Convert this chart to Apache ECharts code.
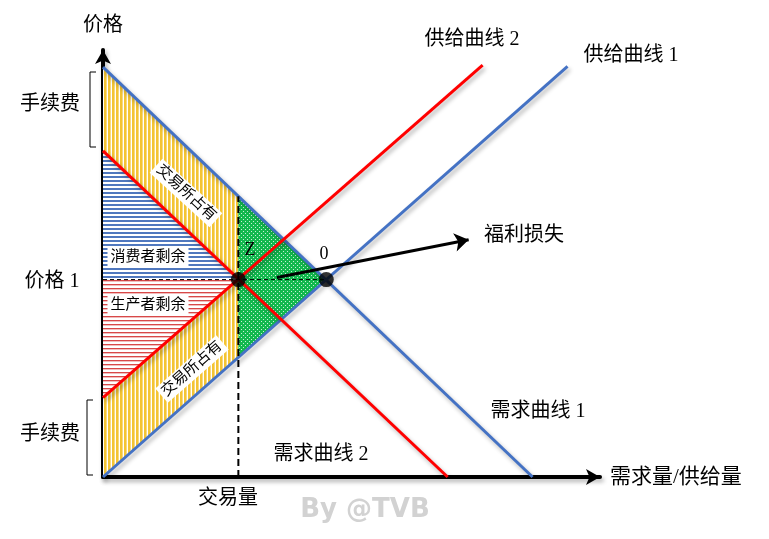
<!DOCTYPE html>
<html>
<head>
<meta charset="utf-8">
<script src="https://cdn.jsdelivr.net/npm/echarts@6/dist/echarts.min.js"></script>
<style>
  html, body { margin: 0; padding: 0; background: #fff; }
  #chart { width: 769px; height: 539px; }
</style>
</head>
<body>
<div id="chart"></div>
<script>
// axis range (quantity / price, arbitrary units)
var qMax = 99.5, pMax = 99.5;

// curves: two end points each
var demand1 = [[0, 95.5], [86, 0]];
var demand2 = [[0, 76], [69, 0]];
var supply1 = [[0, 0], [93, 95.7]];
var supply2 = [[0, 18.5], [76, 96]];

// key points
var pointZ = [27.1, 46];
var point0 = [44.7, 46];
var dashTrade = [[27.1, 0], [27.1, 65.4]];
var dashPrice = [[0, 46], [44.7, 46]];
var lossArrow = [[34.8, 46.5], [73.2, 55.3]];

// shaded areas
var exchangeTop = [[0, 95.5], [27.1, 65.4], [27.1, 46], [0, 76]];
var exchangeBottom = [[0, 18.5], [27.1, 46], [27.1, 27.9], [0, 0]];
var welfareLoss = [[27.1, 65.4], [44.7, 46], [27.1, 27.9]];
var consumerSurplus = [[0, 76], [27.1, 46], [0, 46]];
var producerSurplus = [[0, 46], [27.1, 46], [0, 18.5]];

var CJK = '"Liberation Serif", "Noto Sans CJK SC", sans-serif';

function tile(w, h, draw) {
  var c = document.createElement('canvas');
  c.width = w; c.height = h;
  draw(c.getContext('2d'));
  return { image: c, repeat: 'repeat' };
}

var yellowFill = tile(4, 4, function (ctx) {
  ctx.fillStyle = '#fff'; ctx.fillRect(0, 0, 4, 4);
  ctx.fillStyle = '#F4C433'; ctx.fillRect(0, 0, 2, 4);
  ctx.fillStyle = '#F8DA80'; ctx.fillRect(2, 0, 1, 4);
});
var blueFill = tile(4, 4, function (ctx) {
  ctx.fillStyle = '#fff'; ctx.fillRect(0, 0, 4, 4);
  ctx.fillStyle = '#5078BE'; ctx.fillRect(0, 0, 4, 2);
});
var redFill = tile(4, 4, function (ctx) {
  ctx.fillStyle = '#fff'; ctx.fillRect(0, 0, 4, 4);
  ctx.fillStyle = '#D84848'; ctx.fillRect(0, 0, 4, 1);
  ctx.fillStyle = '#F1BDBD'; ctx.fillRect(0, 1, 4, 1);
});
var greenFill = tile(4, 4, function (ctx) {
  ctx.fillStyle = '#12B84E'; ctx.fillRect(0, 0, 4, 4);
  ctx.fillStyle = '#c8f0d6'; ctx.fillRect(1, 1, 1, 1); ctx.fillRect(3, 3, 1, 1);
});

function area(pts, fill) {
  return {
    type: 'custom', silent: true, z: 1,
    data: [[0, 0]],
    renderItem: function (params, api) {
      return {
        type: 'polygon',
        shape: { points: pts.map(function (p) { return api.coord(p); }) },
        style: { fill: fill }
      };
    }
  };
}

var shadow = { shadowColor: 'rgba(0,0,0,0.3)', shadowBlur: 4, shadowOffsetX: 2, shadowOffsetY: 3 };

function curve(pts, color) {
  return {
    type: 'line', data: pts, showSymbol: false, silent: true, z: 3,
    lineStyle: Object.assign({ color: color, width: 3 }, shadow)
  };
}

function label(txt, x, y, size, extra) {
  return Object.assign({
    type: 'text', x: x, y: y, z: 100,
    style: { text: txt, fontSize: size, fontFamily: CJK, fill: '#000', align: 'center', verticalAlign: 'middle' }
  }, extra || {});
}

function boxed(txt, x, y, size, rot) {
  return {
    type: 'text', x: x, y: y, rotation: rot || 0, z: 100,
    style: {
      text: txt, fontSize: size, fontFamily: CJK, fill: '#000',
      align: 'center', verticalAlign: 'middle',
      backgroundColor: '#fff', padding: [2, 3]
    }
  };
}

function bracket(x, y0, y1) {
  return {
    type: 'polyline', z: 100,
    shape: { points: [[x + 6, y0], [x, y0], [x, y1], [x + 6, y1]] },
    style: { stroke: '#000', lineWidth: 1, fill: null }
  };
}

var chart = echarts.init(document.getElementById('chart'));

chart.setOption({
  animation: false,
  backgroundColor: '#fff',
  grid: { left: 103, right: 169, top: 50, bottom: 62 },
  xAxis: {
    type: 'value', min: 0, max: qMax,
    name: '需求量/供给量', nameLocation: 'end', nameGap: 10,
    nameTextStyle: { fontSize: 21, fontFamily: CJK, color: '#000' },
    axisLine: {
      show: true, symbol: ['none', 'arrow'], symbolSize: [12, 14],
      lineStyle: Object.assign({ color: '#000', width: 4 }, shadow)
    },
    axisTick: { show: false }, axisLabel: { show: false }, splitLine: { show: false }
  },
  yAxis: {
    type: 'value', min: 0, max: pMax,
    name: '价格', nameLocation: 'end', nameGap: 14,
    nameTextStyle: { fontSize: 20, fontFamily: CJK, color: '#000' },
    axisLine: {
      show: true, symbol: ['none', 'arrow'], symbolSize: [12, 14],
      lineStyle: Object.assign({ color: '#000', width: 4 }, shadow)
    },
    axisTick: { show: false }, axisLabel: { show: false }, splitLine: { show: false }
  },
  series: [
    area(exchangeTop, yellowFill),
    area(exchangeBottom, yellowFill),
    area(welfareLoss, greenFill),
    area(consumerSurplus, blueFill),
    area(producerSurplus, redFill),
    curve(demand1, '#4472C4'),
    curve(supply1, '#4472C4'),
    curve(demand2, '#FF0000'),
    curve(supply2, '#FF0000'),
    {
      type: 'line', data: dashTrade, showSymbol: false, silent: true, z: 4,
      lineStyle: { color: '#000', width: 2, type: [7, 4] }
    },
    {
      type: 'line', data: dashPrice, showSymbol: false, silent: true, z: 4,
      lineStyle: { color: '#000', width: 1, type: [4, 3] }
    },
    {
      type: 'lines', coordinateSystem: 'cartesian2d', silent: true, z: 5,
      symbol: ['none', 'arrow'], symbolSize: 14,
      lineStyle: { color: '#000', width: 3, opacity: 1, curveness: 0 },
      data: [{ coords: lossArrow }]
    },
    {
      type: 'scatter', data: [pointZ, point0], symbolSize: 15, silent: true, z: 6,
      itemStyle: { color: '#000' }
    }
  ],
  graphic: [
    label('价格 1', 52, 282, 20),
    label('手续费', 50, 105, 20),
    label('手续费', 50, 435, 20),
    bracket(90, 72, 147),
    bracket(87, 400, 475),
    label('交易量', 228, 499, 20),
    label('供给曲线 2', 472, 40, 20),
    label('供给曲线 1', 631, 56, 20),
    label('需求曲线 1', 538, 412, 20),
    label('需求曲线 2', 321, 455, 20),
    label('福利损失', 524, 236, 20),
    label('Z', 250, 250, 18),
    label('0', 324, 254, 18),
    boxed('消费者剩余', 148, 257, 15),
    boxed('生产者剩余', 148, 305, 15),
    boxed('交易所占有', 186, 193, 15, -0.74),
    boxed('交易所占有', 192, 369, 15, 0.72),
    {
      type: 'text', x: 365, y: 510, z: 100,
      style: {
        text: 'By @TVB', fontSize: 26, fontWeight: 'bold', fontFamily: 'DejaVu Sans',
        fill: '#d2d2d2', align: 'center', verticalAlign: 'middle'
      }
    }
  ]
});
</script>
</body>
</html>
